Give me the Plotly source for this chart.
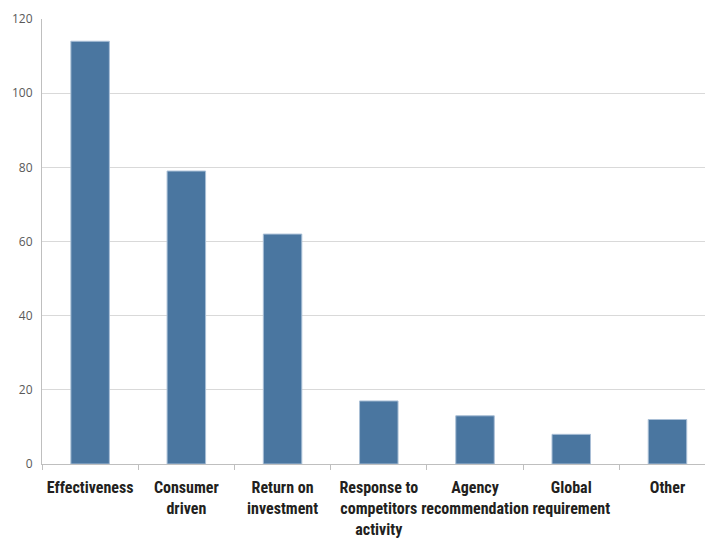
import plotly.graph_objects as go

categories = ["Effectiveness", "Consumer<br>driven", "Return on<br>investment",
              "Response to<br>competitors<br>activity", "Agency<br>recommendation",
              "Global<br>requirement", "Other"]
values = [114, 79, 62, 17, 13, 8, 12]
y_ticks = [0, 20, 40, 60, 80, 100, 120]

fig = go.Figure(go.Bar(
    x=categories, y=values, width=0.4,
    marker=dict(color="#4A76A0", line=dict(color="#A9BFD6", width=1)),
))

fig.update_layout(
    width=705, height=543,
    margin=dict(l=42, r=0, t=19, b=79),
    paper_bgcolor="white", plot_bgcolor="white",
    showlegend=False,
    bargap=0.6,
)
fig.update_xaxes(
    range=[-0.5, 6.39], automargin=False,
    showline=True, linecolor="#BFBFBF", linewidth=1,
    ticks="outside", tickson="boundaries", ticklen=5, tickcolor="#BFBFBF",
    tickfont=dict(family="Roboto Condensed, Noto Sans Condensed, DejaVu Sans Condensed",
                  size=16, color="#231F20", weight="bold"),
    showgrid=False, tickangle=0, ticklabelstandoff=9,
)
fig.update_yaxes(
    range=[0, 120], tickvals=y_ticks, automargin=False,
    showline=True, linecolor="#BFBFBF", linewidth=1,
    gridcolor="#D9D9D9", gridwidth=1,
    tickfont=dict(family="Open Sans", size=12, color="#595959"),
    ticks="", ticklabelstandoff=6, zeroline=False,
)

fig.write_html("out.html", config={"displayModeBar": False},
               post_script="document.body.style.margin='0';document.body.style.overflow='hidden';")
